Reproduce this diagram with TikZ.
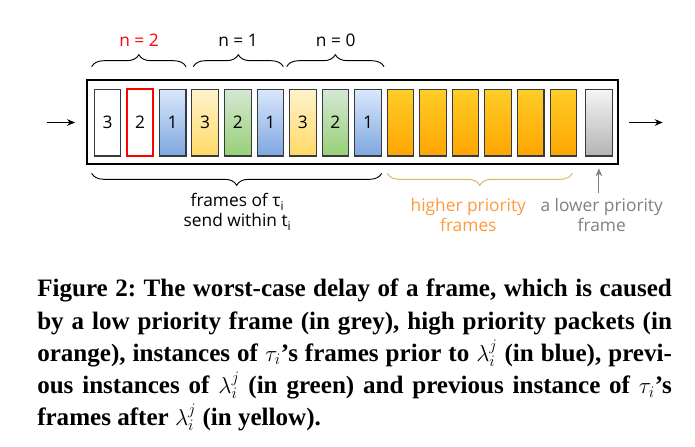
\documentclass[tikz,border=0pt]{standalone}
\usepackage{fontspec}
\setmainfont{Liberation Serif}
\newfontfamily\diafont{Open Sans}
\usetikzlibrary{arrows.meta,decorations.pathreplacing}
\frenchspacing

\definecolor{frameedge}{HTML}{36393D}
\definecolor{bluetop}{HTML}{DAE8FC}
\definecolor{bluebot}{HTML}{7EA6E0}
\definecolor{yeltop}{HTML}{FFF2CC}
\definecolor{yelbot}{HTML}{FFD966}
\definecolor{grntop}{HTML}{D5E8D4}
\definecolor{grnbot}{HTML}{97D077}
\definecolor{orgtop}{HTML}{FFCD28}
\definecolor{orgbot}{HTML}{FFA500}
\definecolor{grytop}{HTML}{F5F5F5}
\definecolor{grybot}{HTML}{B3B3B3}
\definecolor{hiprio}{HTML}{FF9A3C}
\definecolor{hibrace}{HTML}{D6B656}
\definecolor{loprio}{HTML}{808080}

\begin{document}
\begin{tikzpicture}[x=0.75pt, y=-0.75pt,
  every node/.style={font=\diafont\fontsize{13}{15}\selectfont},
  frm/.style={draw=frameedge, line width=0.8pt, minimum width=19.9pt, minimum height=50.2pt, inner sep=0pt},
  plain/.style={frm, fill=white},
  bluef/.style={frm, top color=bluetop, bottom color=bluebot},
  yelf/.style={frm, top color=yeltop, bottom color=yelbot},
  grnf/.style={frm, top color=grntop, bottom color=grnbot},
  orgf/.style={frm, top color=orgtop, bottom color=orgbot},
  gryf/.style={frm, top color=grytop, bottom color=grybot},
  brc/.style={decorate, decoration={brace, amplitude=9pt}, line width=0.7pt},
  flow/.style={-{Stealth[length=6pt, width=5pt]}, line width=0.7pt}]
\useasboundingbox (0,0) rectangle (695,446);

\node[draw, line width=1.1pt, minimum width=398.2pt, minimum height=63pt, inner sep=0pt] (queue) at (352.5,122) {};

\node[plain] (f0) at (107.6,122.5) {3};
\node[plain, draw=red, line width=1.6pt] (f1) at (140.1,122.5) {2};
\node[bluef] (f2) at (172.7,122.5) {1};
\node[yelf] (f3) at (205.2,122.5) {3};
\node[grnf] (f4) at (237.8,122.5) {2};
\node[bluef] (f5) at (270.3,122.5) {1};
\node[yelf] (f6) at (302.9,122.5) {3};
\node[grnf] (f7) at (335.4,122.5) {2};
\node[bluef] (f8) at (368.0,122.5) {1};
\node[orgf] (h1) at (400.5,122.5) {};
\node[orgf] (h2) at (433.1,122.5) {};
\node[orgf] (h3) at (465.6,122.5) {};
\node[orgf] (h4) at (498.2,122.5) {};
\node[orgf] (h5) at (530.7,122.5) {};
\node[orgf] (h6) at (563.3,122.5) {};
\node[gryf] (low) at (598.9,122.5) {};

% queue in and out
\coordinate (inA) at (46.7,122.5);
\coordinate (inB) at (75,122.5);
\coordinate (outA) at (629,122.5);
\coordinate (outB) at (662.7,122.5);
\draw[flow] (inA) -- (inB);
\draw[flow] (outA) -- (outB);

\draw[brc] (91.7,66.7) -- (186,66.7);
\draw[brc] (193.3,66.7) -- (283.3,66.7);
\draw[brc] (286.7,66.7) -- (384,66.7);
\node[text=red] (n2) at (139,40) {n = 2};
\node (n1) at (238,40) {n = 1};
\node (n0) at (335.7,40) {n = 0};

\draw[brc, decoration={mirror}] (91.7,173.3) -- (381.7,173.3);
\draw[brc, draw=hibrace, decoration={mirror}] (387.3,173.3) -- (572.3,173.3);
\node[align=center] (own) at (237.5,212) {frames of τ\textsubscript{i}\\send within t\textsubscript{i}};
\node[align=center, text=hiprio] (hilbl) at (468.3,215) {higher priority\\frames};
\node[align=center, text=loprio] (lolbl) at (601.7,215) {a lower priority\\frame};
\coordinate (lotip) at (598.9,168.3);
\draw[-{Stealth[length=6pt, width=5pt]}, draw=loprio, line width=0.7pt] (598.9,193.3) -- (lotip);

\node[anchor=north west, text width=476pt, align=justify, inner sep=0pt,
  font=\rmfamily\bfseries\fontsize{18.8}{24.2}\selectfont] (caption) at (37,279)
  {Figure 2: The worst-case delay of a frame, which is caused\linebreak
   by a low priority frame (in grey), high priority packets (in\linebreak
   orange), instances of $\tau_i$'s frames prior to $\lambda_i^j$ (in blue), previ-\linebreak
   ous instances of $\lambda_i^j$ (in green) and previous instance of $\tau_i$'s\linebreak
   frames after $\lambda_i^j$ (in yellow).};
\end{tikzpicture}
\end{document}
